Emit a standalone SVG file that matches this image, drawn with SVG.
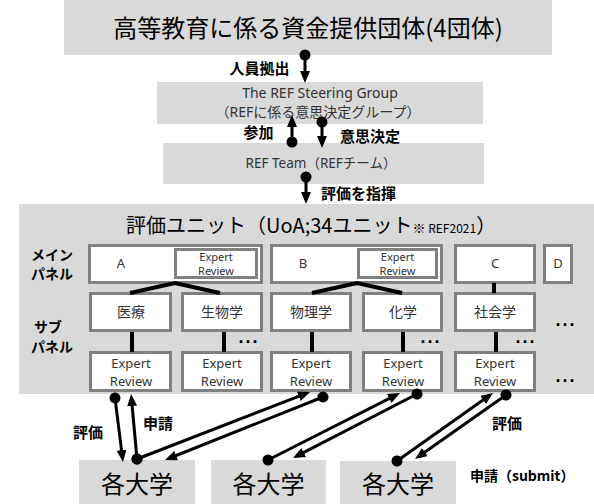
<svg xmlns="http://www.w3.org/2000/svg" width="594" height="504" viewBox="0 0 594 504">
<style>
.g{fill:#d9d9d9}
.w{fill:#fff;stroke:#808080;stroke-width:3}
.t{font-family:"Noto Sans","Noto Sans CJK JP",sans-serif;fill:#333;text-anchor:middle}
.j{font-family:"Noto Sans CJK JP",sans-serif;fill:#000;text-anchor:middle}
.b{font-family:"Noto Sans CJK JP",sans-serif;font-weight:bold;fill:#000;font-size:15px}
.dots{font-family:"Liberation Sans",sans-serif;font-weight:bold;font-size:18px;letter-spacing:2px;text-anchor:middle;fill:#000}
.ln{stroke:#000;stroke-width:4;fill:none}
.ar{stroke:#000;stroke-width:3;fill:none;marker-start:url(#dot);marker-end:url(#head)}
</style>
<defs>
<marker id="head" markerUnits="userSpaceOnUse" markerWidth="12" markerHeight="10" refX="8" refY="5" orient="auto"><path d="M0,0 L12,5 L0,10 z" fill="#000"/></marker>
<marker id="dot" markerUnits="userSpaceOnUse" markerWidth="12" markerHeight="12" refX="6" refY="6" orient="auto"><circle cx="6" cy="6" r="5.5" fill="#000"/></marker>
</defs>

<g id="funders"><rect class="g" x="64" y="0" width="488" height="55"/><text class="j" x="308" y="37" font-size="24">高等教育に係る資金提供団体(4団体)</text></g>
<g id="steering"><rect class="g" x="157" y="82" width="326" height="42"/><text class="t" x="320" y="98" font-size="14">The REF Steering Group</text><text class="t" x="318" y="117" font-size="14">（REFに係る意思決定グループ）</text></g>
<g id="team"><rect class="g" x="163" y="143" width="321" height="41"/><text class="t" x="321" y="168" font-size="13.5">REF Team（REFチーム）</text></g>

<g id="uoa"><rect class="g" x="19" y="204" width="575" height="190"/>
<text class="j" x="126" y="233" font-size="20" style="text-anchor:start">評価ユニット（UoA;34ユニット<tspan font-size="13">※</tspan><tspan font-size="12"> REF2021</tspan>）</text></g>

<g id="labels-side">
<text class="b" x="52" y="260" style="font-size:14px;text-anchor:middle">メイン</text>
<text class="b" x="52" y="279" style="font-size:14px;text-anchor:middle">パネル</text>
<text class="b" x="48" y="332" style="font-size:14px;text-anchor:middle">サブ</text>
<text class="b" x="52" y="352" style="font-size:14px;text-anchor:middle">パネル</text>
</g>

<g id="panelA"><rect class="w" x="89.5" y="245.5" width="172" height="37"/><text class="t" x="121" y="268" font-size="13">A</text>
<rect class="w" x="175.5" y="249.5" width="81" height="28"/><text class="t" x="216" y="261" font-size="11">Expert</text><text class="t" x="216" y="275" font-size="11">Review</text></g>
<g id="panelB"><rect class="w" x="271.5" y="245.5" width="170" height="37"/><text class="t" x="303" y="268" font-size="13">B</text>
<rect class="w" x="358.5" y="249.5" width="78" height="28"/><text class="t" x="397.5" y="261" font-size="11">Expert</text><text class="t" x="397.5" y="275" font-size="11">Review</text></g>
<g id="panelC"><rect class="w" x="455.5" y="245.5" width="79" height="37"/><text class="t" x="495" y="268" font-size="13">C</text></g>
<g id="panelD"><rect class="w" x="544.5" y="245.5" width="27" height="37"/><text class="t" x="558" y="268" font-size="13">D</text></g>

<g id="sub-iryo"><rect class="w" x="90.5" y="293.5" width="80" height="37"/><text class="t" x="131" y="317" font-size="14">医療</text></g>
<g id="sub-seibutsu"><rect class="w" x="182.5" y="293.5" width="79" height="37"/><text class="t" x="222" y="317" font-size="14">生物学</text></g>
<g id="sub-butsuri"><rect class="w" x="271.5" y="293.5" width="79" height="37"/><text class="t" x="311" y="317" font-size="14">物理学</text></g>
<g id="sub-kagaku"><rect class="w" x="363.5" y="293.5" width="78" height="37"/><text class="t" x="403" y="317" font-size="14">化学</text></g>
<g id="sub-shakai"><rect class="w" x="455.5" y="293.5" width="79" height="37"/><text class="t" x="495" y="317" font-size="14">社会学</text></g>

<g id="er1"><rect class="w" x="90.5" y="352.5" width="80" height="38"/><text class="t" x="131" y="368" font-size="13">Expert</text><text class="t" x="131" y="386" font-size="13">Review</text></g>
<g id="er2"><rect class="w" x="182.5" y="352.5" width="79" height="38"/><text class="t" x="222" y="368" font-size="13">Expert</text><text class="t" x="222" y="386" font-size="13">Review</text></g>
<g id="er3"><rect class="w" x="271.5" y="352.5" width="79" height="38"/><text class="t" x="311" y="368" font-size="13">Expert</text><text class="t" x="311" y="386" font-size="13">Review</text></g>
<g id="er4"><rect class="w" x="363.5" y="352.5" width="78" height="38"/><text class="t" x="403" y="368" font-size="13">Expert</text><text class="t" x="403" y="386" font-size="13">Review</text></g>
<g id="er5"><rect class="w" x="455.5" y="352.5" width="79" height="38"/><text class="t" x="495" y="368" font-size="13">Expert</text><text class="t" x="495" y="386" font-size="13">Review</text></g>

<g id="dots">
<text class="dots" x="249" y="343">...</text>
<text class="dots" x="431" y="343">...</text>
<text class="dots" x="526" y="343">...</text>
<text class="dots" x="566" y="326">...</text>
<text class="dots" x="566" y="382">...</text>
</g>

<g id="univ1"><rect class="g" x="79" y="460" width="116" height="44"/><text class="j" x="137" y="493" font-size="24">各大学</text></g>
<g id="univ2"><rect class="g" x="211" y="460" width="115" height="44"/><text class="j" x="268.5" y="493" font-size="24">各大学</text></g>
<g id="univ3"><rect class="g" x="340" y="461" width="116" height="43"/><text class="j" x="398" y="493" font-size="24">各大学</text></g>

<g id="connectors">
<polyline class="ln" points="130,293 175,283 220,293"/>
<polyline class="ln" points="312,293 357,283 402,293"/>
<line class="ln" x1="494" y1="283" x2="494" y2="293"/>
<line class="ln" x1="132" y1="332" x2="132" y2="352"/>
<line class="ln" x1="224" y1="332" x2="224" y2="352"/>
<line class="ln" x1="312" y1="332" x2="312" y2="352"/>
<line class="ln" x1="403" y1="332" x2="403" y2="352"/>
<line class="ln" x1="496" y1="332" x2="496" y2="352"/>
<line class="ar" x1="305" y1="55" x2="305" y2="79"/>
<line class="ar" x1="292" y1="142" x2="292" y2="119"/>
<line class="ar" x1="322" y1="122" x2="322" y2="144"/>
<line class="ar" x1="306" y1="177" x2="306" y2="200"/>
<line class="ar" x1="115" y1="398" x2="122.5" y2="458"/>
<line class="ar" x1="137" y1="459" x2="131.4" y2="398"/>
<line class="ar" x1="137" y1="459" x2="306.3" y2="393.4"/>
<line class="ar" x1="323" y1="397" x2="168.7" y2="458.5"/>
<line class="ar" x1="268" y1="460" x2="396.4" y2="394.8"/>
<line class="ar" x1="417" y1="394" x2="296.6" y2="456.2"/>
<line class="ar" x1="397" y1="461" x2="489.7" y2="395.3"/>
<line class="ar" x1="506" y1="395" x2="418.3" y2="456.7"/>
</g>

<g id="arrow-labels">
<text class="b" x="259.5" y="74" style="text-anchor:middle">人員拠出</text>
<text class="b" x="258.5" y="138" style="text-anchor:middle">参加</text>
<text class="b" x="340" y="142">意思決定</text>
<text class="b" x="321" y="199">評価を指揮</text>
<text class="b" x="88" y="438" style="text-anchor:middle">評価</text>
<text class="b" x="158" y="429" style="text-anchor:middle">申請</text>
<text class="b" x="507" y="429" style="text-anchor:middle">評価</text>
<text class="b" x="470" y="481" style="font-size:14px">申請（submit）</text>
</g>
</svg>
